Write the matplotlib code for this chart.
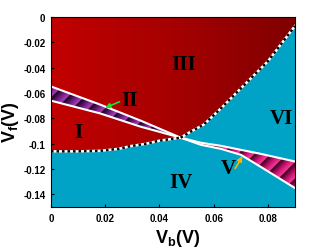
import matplotlib
matplotlib.use("Agg")
import matplotlib.pyplot as plt
import numpy as np
from matplotlib.colors import LinearSegmentedColormap
from matplotlib.path import Path
from matplotlib.patches import PathPatch

plt.rcParams["font.family"] = ["Liberation Sans", "DejaVu Sans"]
plt.rcParams["mathtext.fontset"] = "custom"
plt.rcParams["mathtext.rm"] = "Liberation Sans:bold"
plt.rcParams["mathtext.bf"] = "Liberation Sans:bold"
plt.rcParams["mathtext.it"] = "Liberation Sans:bold"

# phase boundaries (Vb, Vf)
lower_x = [0.0, 0.010, 0.018, 0.025, 0.029, 0.035, 0.040, 0.0478]
lower_y = [-0.106, -0.106, -0.1056, -0.1040, -0.1020, -0.1000, -0.0976, -0.0952]
steep_x = [0.0478, 0.0515, 0.0563, 0.0626, 0.0700, 0.0800, 0.0900]
steep_y = [-0.0952, -0.0905, -0.0849, -0.0722, -0.0563, -0.0349, -0.0070]

# band II (upper/lower edges)
b2_x = [0.0, 0.018, 0.033, 0.0478]
b2_top = [-0.0548, -0.0690, -0.0817, -0.0952]
b2_bot = [-0.0660, -0.0760, -0.0865, -0.0952]

# band V (upper/lower edges)
b5_x = [0.0478, 0.0552, 0.0626, 0.0700, 0.0774, 0.0900]
b5_top = [-0.0952, -0.0992, -0.1016, -0.1048, -0.1080, -0.1140]
b5_bot = [-0.0952, -0.1008, -0.1040, -0.1087, -0.1183, -0.1350]

region_labels = ["I", "II", "III", "IV", "V", "VI"]
label_pos = [(0.0100, -0.0905), (0.0290, -0.0655), (0.0490, -0.0370),
             (0.0480, -0.1300), (0.0655, -0.1195), (0.0850, -0.0795)]

xticks = [0, 0.02, 0.04, 0.06, 0.08]
xtick_labels = ["0", "0.02", "0.04", "0.06", "0.08"]
yticks = [0, -0.02, -0.04, -0.06, -0.08, -0.1, -0.12, -0.14]
ytick_labels = ["0", "-0.02", "-0.04", "-0.06", "-0.08", "-0.1", "-0.12", "-0.14"]

XMIN, XMAX, YMIN, YMAX = 0.0, 0.09, -0.15, 0.0

fig = plt.figure(figsize=(3.21, 2.51), dpi=100)
ax = fig.add_axes([0.159, 0.171, 0.760, 0.757])
ax.set_xlim(XMIN, XMAX)
ax.set_ylim(YMIN, YMAX)
ax.set_facecolor("#00a3c6")


def clip_patch(xs, ys):
    verts = list(zip(xs, ys))
    verts.append(verts[0])
    codes = [Path.MOVETO] + [Path.LINETO] * (len(verts) - 2) + [Path.CLOSEPOLY]
    p = PathPatch(Path(verts, codes), facecolor="none", edgecolor="none")
    ax.add_patch(p)
    return p


# red region with a horizontal gradient
red_x = [XMIN, XMAX] + steep_x[::-1] + lower_x[::-1][1:]
red_y = [YMAX, YMAX] + steep_y[::-1] + lower_y[::-1][1:]
red_cmap = LinearSegmentedColormap.from_list("red", ["#c20000", "#a60000", "#800000"])
grad = np.linspace(0, 1, 256).reshape(1, -1)
im = ax.imshow(grad, cmap=red_cmap, extent=[XMIN, XMAX, YMIN, YMAX],
               aspect="auto", zorder=1, interpolation="bilinear")
im.set_clip_path(clip_patch(red_x, red_y))

# striped ribbons
gx, gy = np.meshgrid(np.linspace(XMIN, XMAX, 600), np.linspace(YMAX, YMIN, 600))


def ribbon(xs, top, bot, colors, period):
    phase = ((gx - 0.47 * gy) / period) % 1.0
    cm = LinearSegmentedColormap.from_list("rib", colors)
    im = ax.imshow(phase, cmap=cm, extent=[XMIN, XMAX, YMIN, YMAX],
                   aspect="auto", zorder=3, interpolation="bilinear")
    im.set_clip_path(clip_patch(list(xs) + list(xs[::-1]), list(top) + list(bot[::-1])))
    ax.plot(xs, top, color="white", lw=1.5, zorder=4)
    ax.plot(xs, bot, color="white", lw=1.5, zorder=4)


ribbon(b2_x, b2_top, b2_bot, ["#14001c", "#6a1a78", "#b040c0"], 0.0060)
ribbon(b5_x, b5_top, b5_bot, ["#300018", "#c0106a", "#ff3aa0"], 0.0060)

# dotted boundaries
for xs, ys in [(lower_x, lower_y), (steep_x, steep_y)]:
    ax.plot(xs, ys, color="white", lw=1.8, zorder=5)
    ax.plot(xs, ys, color="black", lw=1.8, ls=(0, (1, 1.2)), zorder=6)

for lab, (lx, ly) in zip(region_labels, label_pos):
    ax.text(lx, ly, lab, fontsize=15, fontweight="bold", family="Liberation Serif",
            ha="center", va="center", zorder=8)

ax.annotate("", xy=(0.0190, -0.0725), xytext=(0.0262, -0.0660),
            arrowprops=dict(arrowstyle="-|>", color="#22e022", lw=1.2,
                            mutation_scale=7), zorder=9)
ax.annotate("", xy=(0.0711, -0.1080), xytext=(0.0674, -0.1215),
            arrowprops=dict(arrowstyle="-|>", color="#ffb400", lw=1.2,
                            mutation_scale=7), zorder=9)

ax.set_xticks(xticks)
ax.set_xticklabels(xtick_labels)
ax.set_yticks(yticks)
ax.set_yticklabels(ytick_labels)
ax.tick_params(labelsize=7, length=2, direction="in", pad=4)
for t in ax.get_xticklabels() + ax.get_yticklabels():
    t.set_fontweight("bold")
for s in ax.spines.values():
    s.set_linewidth(0.8)
    s.set_zorder(10)

xl = ax.set_xlabel(r"$\mathbf{V_b}$(V)", fontsize=13, fontweight="bold", va="center")
yl = ax.set_ylabel(r"$\mathbf{V_f}$(V)", fontsize=13, fontweight="bold", va="center")
ax.xaxis.set_label_coords(0.52, -0.158)
ax.yaxis.set_label_coords(-0.168, 0.453)

fig.savefig("out.png", dpi=100)
